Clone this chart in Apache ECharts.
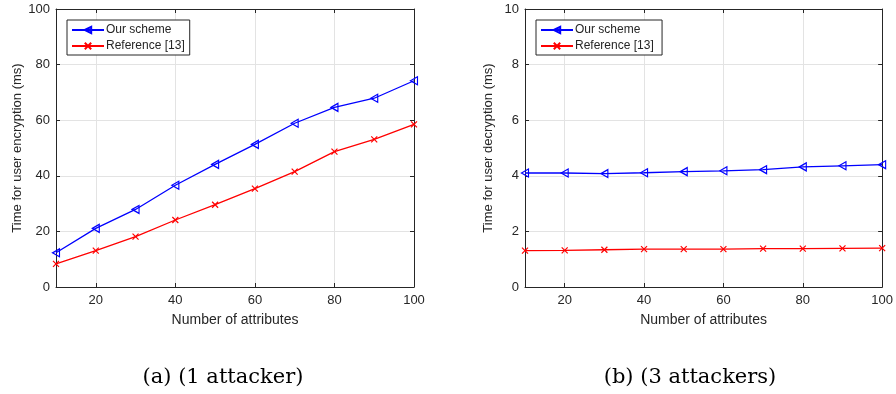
<!DOCTYPE html>
<html>
<head>
<meta charset="utf-8">
<script src="https://cdn.jsdelivr.net/npm/echarts@6/dist/echarts.min.js"></script>
<style>html,body{margin:0;padding:0;background:#fff}#c{width:896px;height:394px}</style>
</head>
<body>
<div id="c"></div>
<script>
const attributes = [10, 20, 30, 40, 50, 60, 70, 80, 90, 100];
const encOurs = [12.3, 21.1, 27.9, 36.6, 44.1, 51.3, 58.9, 64.6, 67.9, 74.2];
const encRef = [8.3, 13.1, 18.1, 24.1, 29.6, 35.4, 41.5, 48.7, 53.1, 58.5];
const decOurs = [4.10, 4.10, 4.08, 4.11, 4.15, 4.18, 4.22, 4.32, 4.36, 4.40];
const decRef = [1.31, 1.32, 1.34, 1.36, 1.36, 1.36, 1.38, 1.38, 1.39, 1.40];
const xTicks = [20, 40, 60, 80, 100];
const seriesNames = ['Our scheme', 'Reference [13]'];
const captions = ['(a) (1 attacker)', '(b) (3 attackers)'];
const yNames = ['Time for user encryption (ms)', 'Time for user decryption (ms)'];
const xName = 'Number of attributes';

const FONT = 'Liberation Sans, Arial, sans-serif';
const TXT = '#262626';
const GRIDC = '#e3e3e3';
const BLUE = '#0000ff';
const RED = '#ff0000';
const triLeft = 'path://M0,5 L10,0 L10,10 Z';
const cross = 'path://M0,0 L10,10 M10,0 L0,10';

const grids = [
  {left: 56, right: 482, top: 9, bottom: 107},
  {left: 525, right: 13, top: 9, bottom: 107}
];

function xAxes(gi) {
  return [
    {
      type: 'value', gridIndex: gi, position: 'bottom', min: 10, max: 100,
      name: xName, nameLocation: 'middle', nameGap: 26,
      nameTextStyle: {fontFamily: FONT, fontSize: 14, color: TXT},
      axisLine: {show: true, onZero: false, lineStyle: {color: TXT, width: 1}},
      axisTick: {show: true, inside: true, length: 4, customValues: xTicks, lineStyle: {color: TXT}},
      axisLabel: {fontFamily: FONT, fontSize: 13, color: TXT, margin: 7, customValues: xTicks},
      splitLine: {show: true, lineStyle: {color: GRIDC, width: 1}}
    },
    {
      type: 'value', gridIndex: gi, position: 'top', min: 10, max: 100,
      axisLine: {show: true, onZero: false, lineStyle: {color: TXT, width: 1}},
      axisTick: {show: true, inside: true, length: 4, customValues: xTicks, lineStyle: {color: TXT}},
      axisLabel: {show: false},
      splitLine: {show: false}
    }
  ];
}
function yAxes(gi, max, interval, name) {
  return [
    {
      type: 'value', gridIndex: gi, position: 'left', min: 0, max: max, interval: interval,
      name: name, nameLocation: 'middle', nameGap: 30,
      nameTextStyle: {fontFamily: FONT, fontSize: 13, color: TXT},
      axisLine: {show: true, onZero: false, lineStyle: {color: TXT, width: 1}},
      axisTick: {show: true, inside: true, length: 4, lineStyle: {color: TXT}},
      axisLabel: {fontFamily: FONT, fontSize: 13, color: TXT, margin: 6},
      splitLine: {show: true, lineStyle: {color: GRIDC, width: 1}}
    },
    {
      type: 'value', gridIndex: gi, position: 'right', min: 0, max: max, interval: interval,
      axisLine: {show: true, onZero: false, lineStyle: {color: TXT, width: 1}},
      axisTick: {show: true, inside: true, length: 4, lineStyle: {color: TXT}},
      axisLabel: {show: false},
      splitLine: {show: false}
    }
  ];
}

function mkSeries(name, vals, xi, yi, color, symbol, size) {
  const isCross = symbol === cross;
  return {
    name: name, type: 'line', xAxisIndex: xi, yAxisIndex: yi,
    data: attributes.map((a, i) => [a, vals[i]]),
    symbol: symbol, symbolSize: size, showAllSymbol: true,
    lineStyle: {color: color, width: 1.3},
    itemStyle: {color: isCross ? color : 'rgba(255,255,255,0)', borderColor: color, borderWidth: 1.2},
    emphasis: {disabled: true},
    animation: false, z: 3
  };
}

function legend(gi, left) {
  return {
    show: true,
    data: seriesNames.map(n => ({name: n + (gi ? ' ' : '')})),
    left: left, top: 20, orient: 'vertical',
    backgroundColor: '#fff', borderColor: TXT, borderWidth: 1,
    padding: [4, 5, 3, 4], itemGap: 4, itemWidth: 32, itemHeight: 8,
    textStyle: {fontFamily: FONT, fontSize: 12, color: TXT, padding: [0, 0, 0, -3]},
    selectedMode: false
  };
}

const option = {
  animation: false,
  backgroundColor: '#fff',
  grid: grids,
  xAxis: [...xAxes(0), ...xAxes(1)],
  yAxis: [...yAxes(0, 100, 20, yNames[0]), ...yAxes(1, 10, 2, yNames[1])],
  legend: [legend(0, 67), legend(1, 536)],
  series: [
    mkSeries(seriesNames[0], encOurs, 0, 0, BLUE, triLeft, [7, 8]),
    mkSeries(seriesNames[1], encRef, 0, 0, RED, cross, 6),
    mkSeries(seriesNames[0] + ' ', decOurs, 2, 2, BLUE, triLeft, [7, 8]),
    mkSeries(seriesNames[1] + ' ', decRef, 2, 2, RED, cross, 6)
  ],
  graphic: [
    {type: 'text', x: 223, y: 378, style: {text: captions[0], font: '21px "DejaVu Serif", serif', fill: '#000', align: 'center', verticalAlign: 'middle'}},
    {type: 'text', x: 690, y: 378, style: {text: captions[1], font: '21px "DejaVu Serif", serif', fill: '#000', align: 'center', verticalAlign: 'middle'}}
  ]
};

const chart = echarts.init(document.getElementById('c'), null, {renderer: 'canvas'});
chart.setOption(option);
</script>
</body>
</html>
